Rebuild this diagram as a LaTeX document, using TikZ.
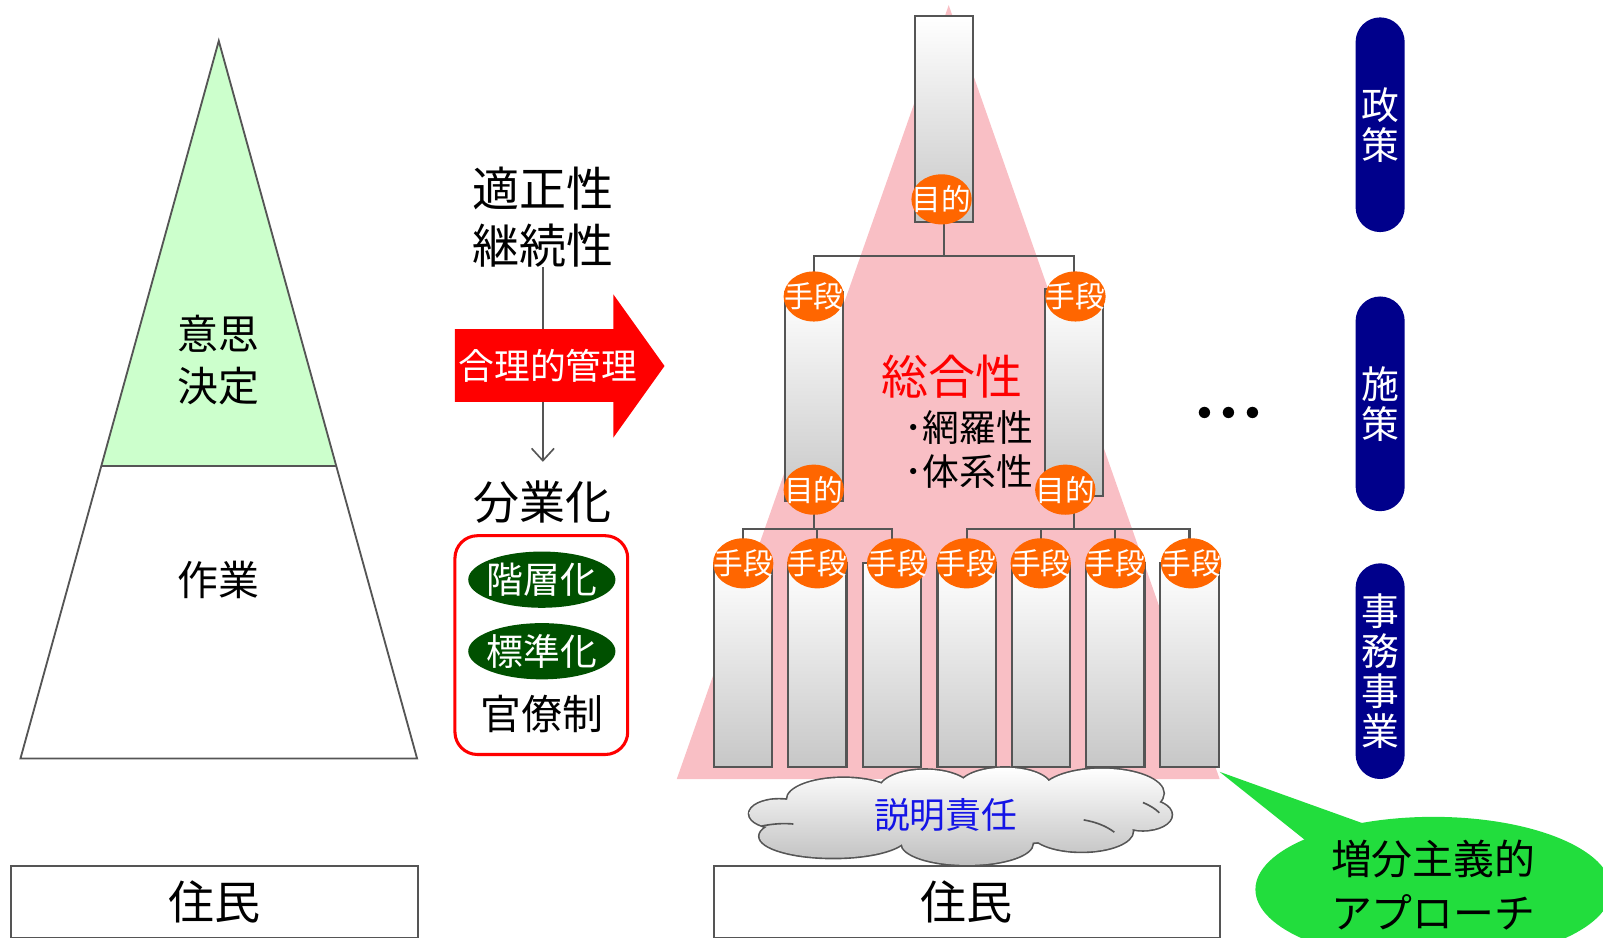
\documentclass[tikz,border=0pt]{standalone}
\usepackage{fontspec}
\setmainfont{Noto Sans CJK JP}
\usetikzlibrary{shapes.geometric,arrows.meta}
\definecolor{pinkT}{RGB}{249,191,197}
\definecolor{orangeO}{RGB}{255,102,0}
\definecolor{navyP}{RGB}{0,0,139}
\definecolor{greenC}{RGB}{34,221,61}
\definecolor{dgreen}{RGB}{0,80,0}
\definecolor{lgreen}{RGB}{204,255,204}
\definecolor{lineG}{RGB}{85,85,85}
\definecolor{blueT}{RGB}{20,20,230}
\newcommand{\fsz}[2]{\fontsize{#1pt}{#2pt}\selectfont}
\newcommand{\zb}[1]{\makebox[0pt]{#1}}
\newcommand{\dotbox}{\makebox[11.85pt]{・}}
\tikzset{
  txt/.style={inner sep=0pt},
  conn/.style={draw=lineG, line width=1pt},
  barbox/.style={draw=lineG, line width=1pt, top color=white, bottom color=black!22, minimum width=28.5pt, inner sep=0pt},
  oval/.style={ellipse, fill=orangeO, text=white, minimum width=29.5pt, minimum height=24.5pt, inner sep=0pt, font=\fsz{14.5}{16}},
  pill/.style={fill=navyP, text=white, rounded corners=12pt, minimum width=24pt, minimum height=105pt, inner sep=0pt, align=center, font=\fsz{18.5}{19.5}},
  greenoval/.style={ellipse, fill=dgreen, text=white, minimum width=72pt, minimum height=27.5pt, inner sep=0pt, font=\fsz{18}{20}},
  jubox/.style={draw=lineG, line width=0.9pt, minimum height=35pt, inner sep=0pt, font=\fsz{22.5}{26}}
}
\newcommand{\cloudpath}{
  (762,796) ellipse [x radius=29, y radius=14]
  (815,818) ellipse [x radius=72, y radius=21]
  (946,825) ellipse [x radius=64, y radius=21]
  (1058,813) ellipse [x radius=50, y radius=20]
  (1118,797) ellipse [x radius=28, y radius=15]
  (1078,776) ellipse [x radius=60, y radius=24]
  (983,770) ellipse [x radius=45, y radius=19]
  (905,773) ellipse [x radius=45, y radius=20]
  (825,782) ellipse [x radius=55, y radius=21]
  (940,797) ellipse [x radius=165, y radius=30]
}
\begin{document}
\begin{tikzpicture}[x=0.5pt,y=-0.5pt]
\useasboundingbox (0,0) rectangle (1568,917);
% ---------- left pyramid ----------
\fill[lgreen] (214,40) -- (329,456) -- (99,456) -- cycle;
\draw[lineG, line width=0.9pt] (214,40) -- (408,742) -- (20,742) -- cycle;
\draw[lineG, line width=0.9pt] (99,456) -- (329,456);
\node[txt, font=\fsz{20}{25.5}, align=center] (ishi) at (214,352) {意思\\決定};
\node[txt, font=\fsz{20}{24}] (sagyo) at (214,567) {作業};
\node[jubox, minimum width=199pt] (jumin1) at (210,882) {住民};
% ---------- middle ----------
\node[txt, font=\fsz{23}{28}] (tekisei) at (531,184) {適正性};
\node[txt, font=\fsz{23}{28}] (keizoku) at (531,240) {継続性};
\node[txt, font=\fsz{22.5}{27}] (bungyo) at (531,491) {分業化};
\draw[lineG, line width=0.8pt, shorten >=9pt, -{Straight Barb[length=6pt, width=11pt]}] (keizoku.south) -- (bungyo.north);
\fill[red] (445,322) -- (600,322) -- (600,288) -- (650,358) -- (600,428) -- (600,393) -- (445,393) -- cycle;
\node[txt, text=white, font=\fsz{17.5}{20}] (gori) at (536,358) {合理的管理};
\node[draw=red, line width=1.5pt, rounded corners=11pt, minimum width=84.5pt, minimum height=107pt, inner sep=0pt] (kanbox) at (529.5,631) {};
\node[greenoval] (kaiso) at (530,567) {\zb{階層化}};
\node[greenoval] (hyojun) at (530,637) {\zb{標準化}};
\node[txt, font=\fsz{20}{24}] (kanryo) at (530,698) {官僚制};
% ---------- right ----------
\fill[pinkT] (928,5) -- (1193,762) -- (662,762) -- cycle;
\node[barbox, minimum height=100.5pt] (tb) at (923.5,116.5) {};
\node[barbox, minimum height=102pt] (bl) at (796.5,388) {};
\node[barbox, minimum height=101pt] (br) at (1050.5,384) {};
\foreach \n/\x in {1/726.5,2/799.5,3/872.5,4/945.5,5/1018,6/1091,7/1163.5}{
  \node[barbox, minimum height=99.5pt] (b\n) at (\x,650.5) {};
}
\coordinate (j1) at (923.5,250);
\draw[conn] (tb.south) -- (j1);
\draw[conn] (bl.north) |- (j1) -| (br.north);
\coordinate (jL) at (796.5,517);
\draw[conn] (bl.south) -- (jL);
\draw[conn] (b1.north) |- (jL) -| (b3.north);
\draw[conn] (b2.north) |- (jL);
\coordinate (jR) at (1050.5,517);
\draw[conn] (br.south) -- (jR);
\draw[conn] (b4.north) |- (jR) -| (b7.north);
\draw[conn] (b5.north) |- (jR);
\draw[conn] (b6.north) |- (jR);
\node[oval] (mt) at (921,195) {\zb{目的}};
\node[oval] (sl) at (796,290) {\zb{手段}};
\node[oval] (sr) at (1052,290) {\zb{手段}};
\node[oval] (ml) at (796,479) {\zb{目的}};
\node[oval] (mr) at (1042,479) {\zb{目的}};
\node[oval] (s1) at (727,551) {\zb{手段}};
\node[oval] (s2) at (799.5,551) {\zb{手段}};
\node[oval] (s3) at (877.5,551) {\zb{手段}};
\node[oval] (s4) at (945.5,551) {\zb{手段}};
\node[oval] (s5) at (1018,551) {\zb{手段}};
\node[oval] (s6) at (1091,551) {\zb{手段}};
\node[oval] (s7) at (1165,551) {\zb{手段}};
\node[txt, text=red, font=\fsz{23}{28}] (sogo) at (931,368) {総合性};
\node[txt, font=\fsz{18}{21.5}, align=left, anchor=west] (moura) at (884,440) {･網羅性\\･体系性};
\node[txt, font=\fsz{20}{22}\bfseries] (dots) at (1202,409) {\dotbox\dotbox\dotbox};
% pills
\node[pill] (p1) at (1350,122) {政\\策};
\node[pill] (p2) at (1350,395) {施\\策};
\node[pill, minimum height=105.5pt] (p3) at (1350,656.5) {事\\務\\事\\業};
% cloud
\draw[lineG, line width=1.6pt] \cloudpath;
\shade[top color=white, bottom color=black!25] \cloudpath;
\draw[lineG, line width=0.8pt] (745,808) .. controls (755,806) and (765,805) .. (776,806);
\draw[lineG, line width=0.8pt] (1060,802) .. controls (1072,804) and (1082,808) .. (1090,814);
\draw[lineG, line width=0.8pt] (1118,785) .. controls (1125,788) and (1130,791) .. (1134,795);
\node[txt, text=blueT, font=\fsz{17.5}{20}] (setsumei) at (925,797) {説明責任};
\node[jubox, minimum width=247.5pt] (jumin2) at (945.5,882) {住民};
% callout
\fill[greenC] (1193,755) -- (1282,826) -- (1335,806) -- cycle;
\fill[greenC] (1402,870) ellipse [x radius=174, y radius=71];
\node[txt, font=\fsz{20}{26.5}, align=center] (zobun) at (1402,866) {増分主義的\\アプローチ};
\end{tikzpicture}
\end{document}
